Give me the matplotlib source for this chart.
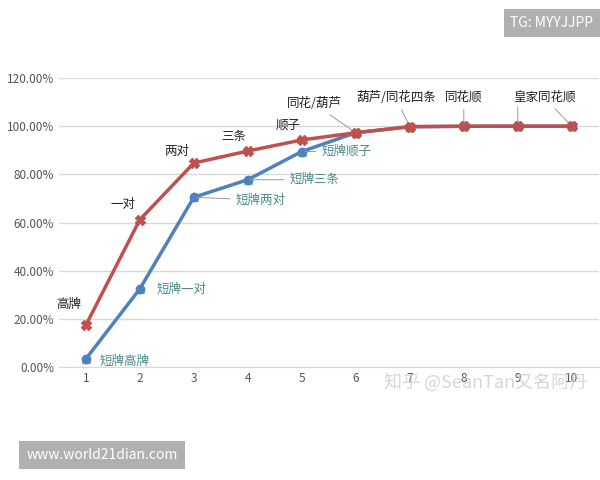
import matplotlib
matplotlib.use("Agg")
import matplotlib.pyplot as plt
from matplotlib.ticker import FuncFormatter

plt.rcParams['font.family'] = ['Noto Sans CJK SC', 'DejaVu Sans']

x = [1, 2, 3, 4, 5, 6, 7, 8, 9, 10]
full = [0.174, 0.612, 0.847, 0.897, 0.943, 0.973, 0.998, 0.9997, 0.9999, 1.0]
short = [0.034, 0.325, 0.705, 0.778, 0.895, 0.973, 0.998, 0.9997, 0.9999, 1.0]
full_labels = ["高牌", "一对", "两对", "三条", "顺子", "同花/葫芦", "葫芦/同花四条", "同花顺", "皇家同花顺"]
short_labels = ["短牌高牌", "短牌一对", "短牌两对", "短牌三条", "短牌顺子"]
yticks = [0, 0.2, 0.4, 0.6, 0.8, 1.0, 1.2]

fig = plt.figure(figsize=(6, 4.8), dpi=100)
ax = fig.add_axes([0.098, 0.235, 0.90, 0.6025])
ax.set_xlim(0.5, 10.5)
ax.set_ylim(0, 1.2)
ax.set_yticks(yticks)
ax.set_xticks(x)
ax.yaxis.set_major_formatter(FuncFormatter(lambda v, p: f"{v*100:.2f}%"))
ax.grid(axis='y', color='#d9d9d9', lw=1)
ax.set_axisbelow(True)
for s in ['top', 'right', 'left']:
    ax.spines[s].set_visible(False)
ax.spines['bottom'].set_color('#d9d9d9')
ax.tick_params(length=0, labelsize=8.5, colors='#555555')

ax.plot(x, short, color='#9bbb59', marker='^', ms=6, lw=0, zorder=2)
ax.plot(x, short, color='#4f81bd', marker='o', ms=6, lw=2.5, zorder=3)
ax.plot(x, full, color='#c0504d', marker='X', ms=7, lw=2.5, zorder=4,
        markeredgecolor='#c0504d')

# red labels
off = {0: (-12, 10), 1: (-12, 6), 2: (-12, 4), 3: (-10, 6), 4: (-10, 6)}
for i, lab in enumerate(full_labels[:5]):
    ax.annotate(lab, (x[i], full[i]), xytext=off[i], textcoords='offset points',
                ha='center', va='bottom', fontsize=9, color='#222222')
lead = {5: (-30, 16), 6: (-10, 16), 7: (0, 16), 8: (0, 16), 9: (-20, 16)}
for k, i in enumerate([5, 6, 7, 9]):
    lab = full_labels[5 + k] if k < 3 else full_labels[8]
    ax.annotate(lab, (x[i], full[i]), xytext=lead[i], textcoords='offset points',
                ha='center', va='bottom', fontsize=9, color='#222222',
                arrowprops=dict(arrowstyle='-', color='#999999', lw=0.7))
ax.annotate("", (x[8], full[8]), xytext=(0, 16), textcoords='offset points',
            arrowprops=dict(arrowstyle='-', color='#999999', lw=0.7))
# blue labels
boff = {0: (10, -2), 1: (12, 0), 2: (30, -2), 3: (30, 0), 4: (14, 0)}
for i, lab in enumerate(short_labels):
    ax.annotate(lab, (x[i], short[i]), xytext=boff[i], textcoords='offset points',
                ha='left', va='center', fontsize=9, color='#4a8a8a',
                arrowprops=dict(arrowstyle='-', color='#999999', lw=0.7) if i in (2, 3, 4) else None)

fig.text(0.5, 0.192, "", fontsize=1)
fig.text(0.64, 0.192, "知乎 @SeanTan又名阿丹", fontsize=13, color='#cccccc', alpha=0.8)
fig.text(0.92, 0.953, "TG: MYYJJPP", fontsize=10, color='white', ha='center', va='center',
         bbox=dict(boxstyle='square,pad=0.5', fc='#b0b0b0', ec='none'))
fig.text(0.17, 0.052, "www.world21dian.com", fontsize=10, color='white', ha='center', va='center',
         bbox=dict(boxstyle='square,pad=0.5', fc='#b0b0b0', ec='none'))
fig.savefig("out.png", dpi=100)
